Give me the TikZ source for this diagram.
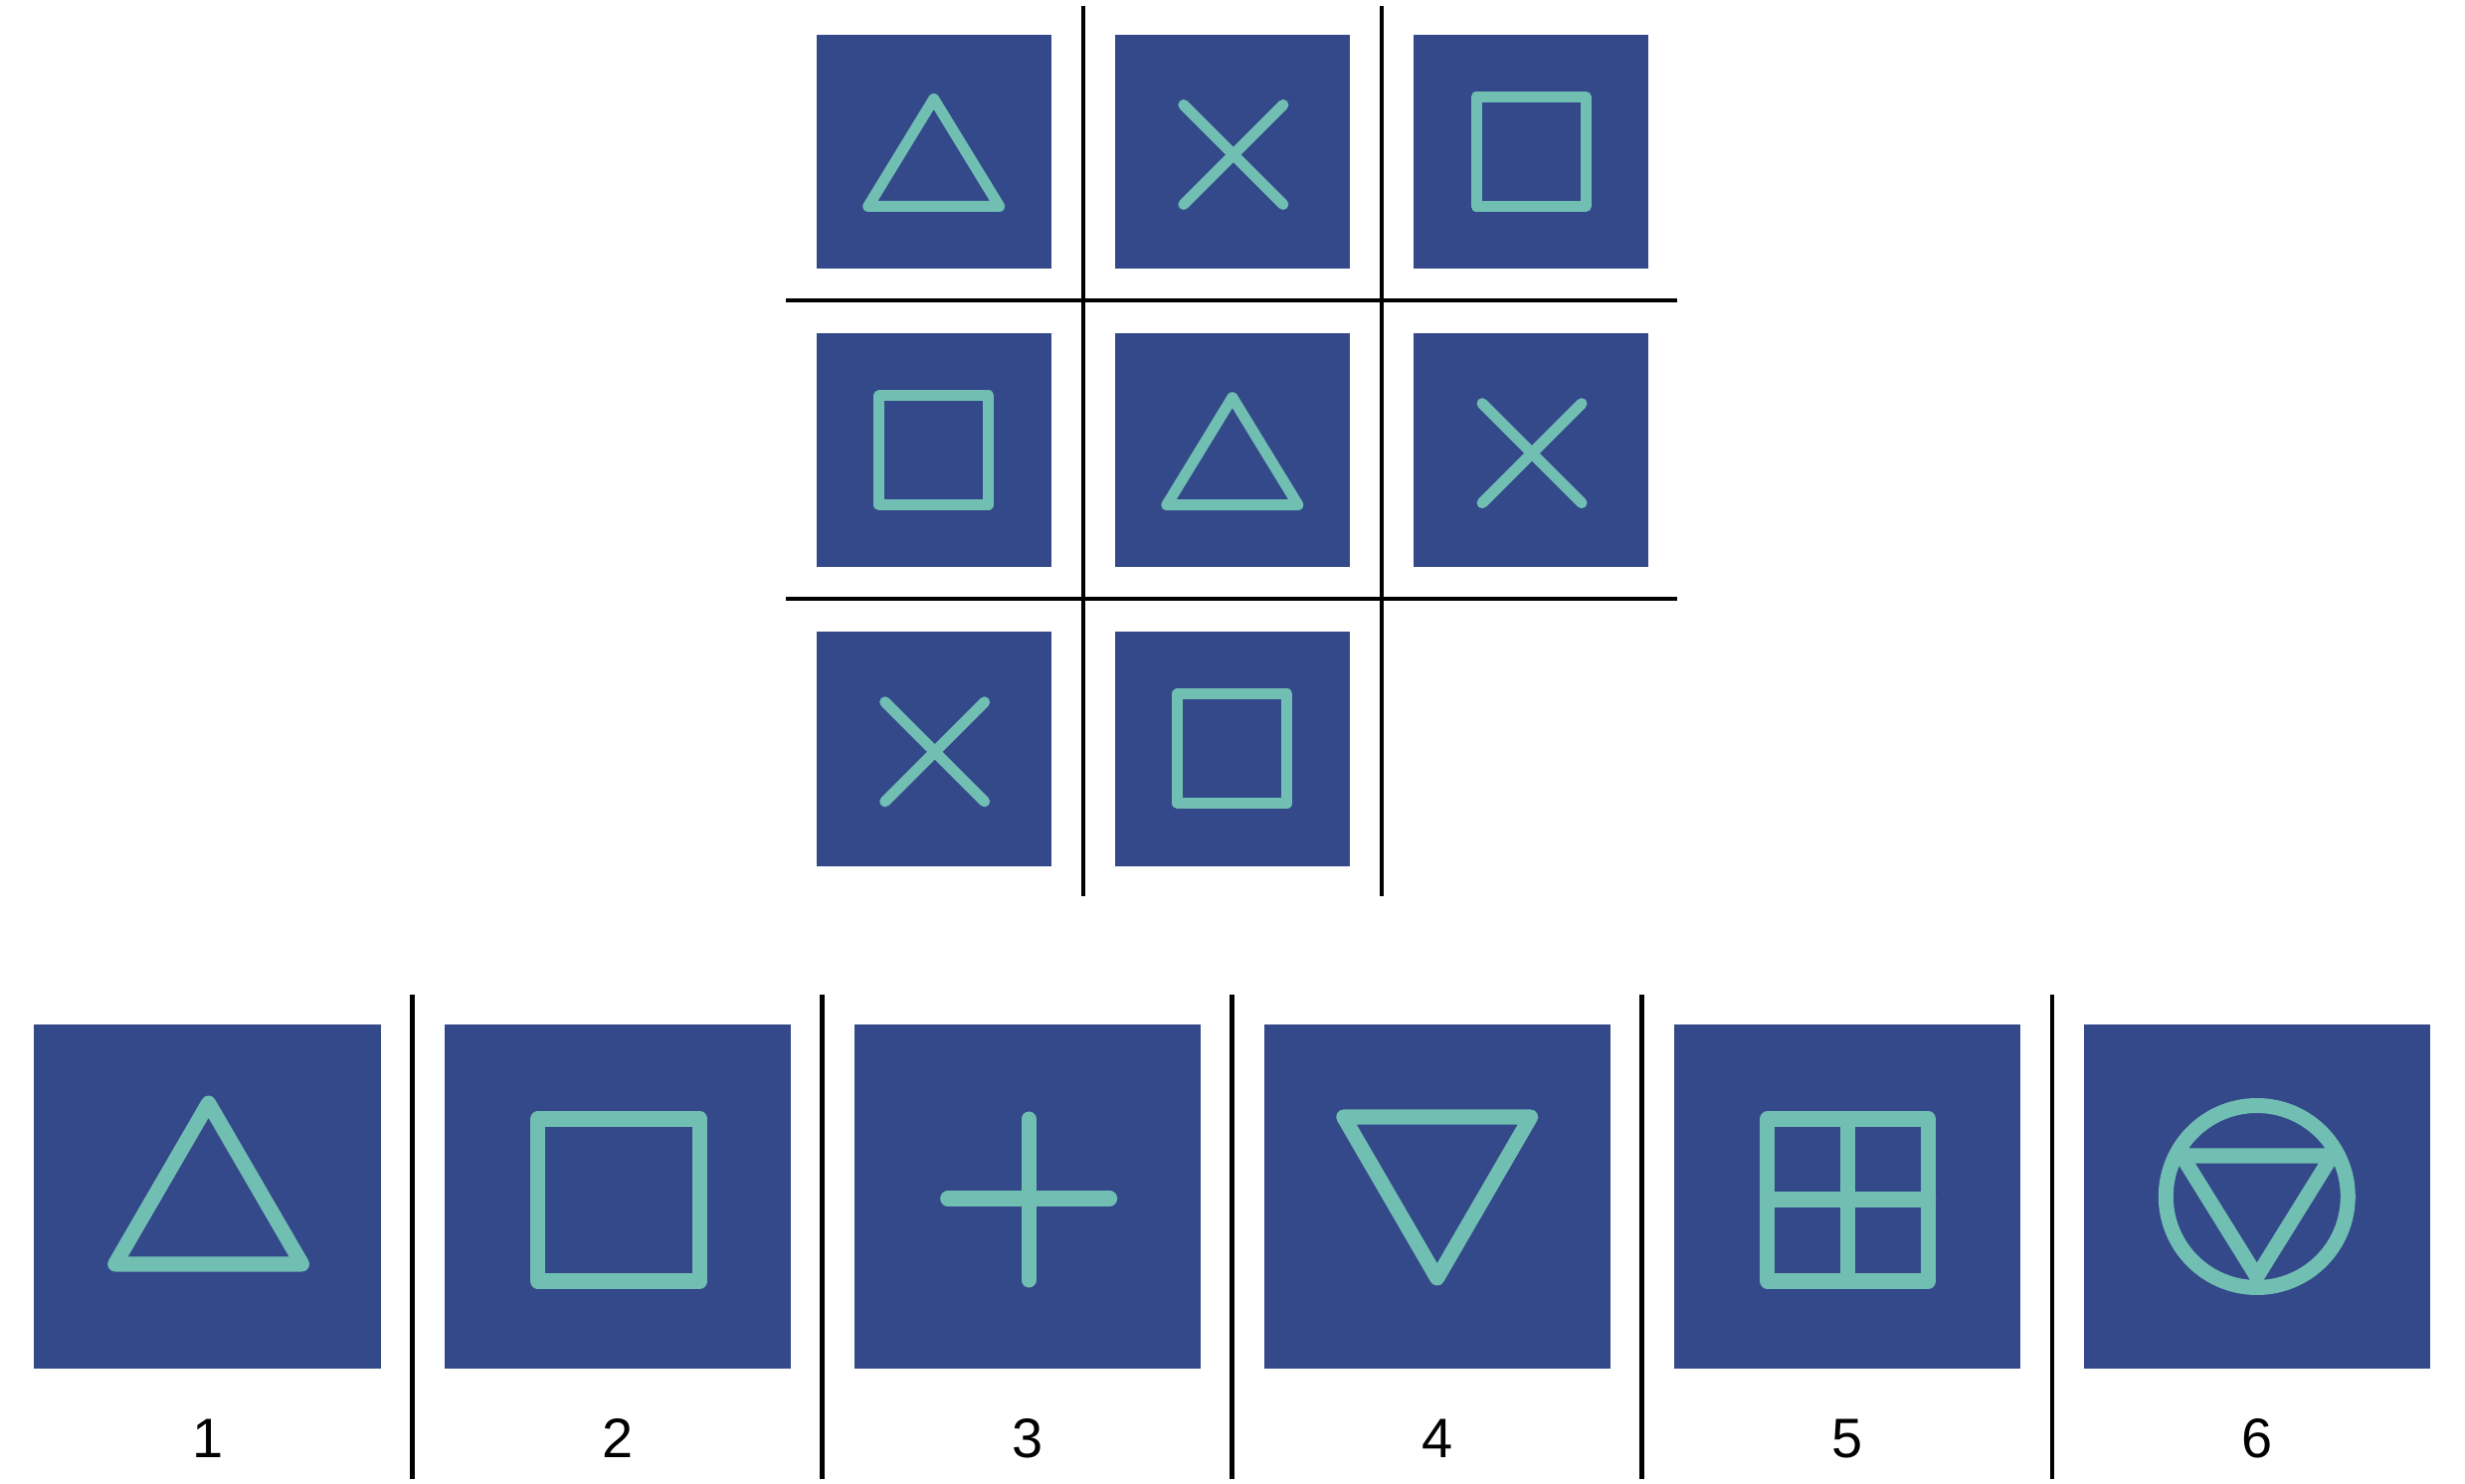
\documentclass[tikz,border=0pt]{standalone}
\usepackage{fontspec}
\setmainfont{Liberation Sans}
\usepackage{tikz}
\usetikzlibrary{positioning,calc}
\definecolor{tileblue}{RGB}{52,73,138}
\definecolor{glyphteal}{RGB}{113,190,178}
\tikzset{cell/.style={fill=tileblue, inner sep=0pt, outer sep=0pt, minimum size=2.355cm}}
\tikzset{box/.style={fill=tileblue, inner sep=0pt, outer sep=0pt, minimum width=3.48cm, minimum height=3.46cm}}
\tikzset{num/.style={inner sep=0pt, font=\fontsize{15.9}{19}\selectfont}}
\tikzset{rule/.style={draw=black, line width=0.045cm}}
\tikzset{glyph/.style={draw=glyphteal, line width=0.11cm, line cap=round, line join=round}}
\tikzset{bigglyph/.style={glyph, line width=0.15cm}}
\tikzset{
	triup/.pic={\draw[glyph] (0,-53) -- (66,55) -- (-66,55) -- cycle;},
	xmark/.pic={\draw[glyph] (-49,-47) -- (51,53) (-49,53) -- (51,-47);},
	sqmark/.pic={\draw[glyph] (-55,-55) rectangle (55,55);},
	bigtri/.pic={\draw[bigglyph] (1,-94) -- (95,68) -- (-93,68) -- cycle;},
	bigsq/.pic={\draw[bigglyph] (-80,-78) rectangle (83,85);},
	bigplus/.pic={\draw[bigglyph] (-80,2) -- (83,2) (1.5,-78) -- (1.5,84);},
	bigdown/.pic={\draw[bigglyph] (-94,-80) -- (94,-80) -- (0,82) -- cycle;},
	bigwin/.pic={\draw[bigglyph] (-80,-78) rectangle (82,85) (1,-78) -- (1,85) (-80,3) -- (82,3);},
	bigring/.pic={\draw[bigglyph] (0,0) circle (91.5) (-75.5,-41) -- (75.5,-41) -- (0,80.6) -- cycle;}
}

\begin{document}
\begin{tikzpicture}[x=0.01cm,y=-0.01cm]
			\useasboundingbox[fill=white] (0,0) rectangle (2478,1492);
			% puzzle grid
			\node [cell] at (938.7,152.5)           (a11) {};
			\node [cell, right=0.645cm of a11]      (a12) {};
			\node [cell, right=0.645cm of a12]      (a13) {};
			\node [cell, below=0.645cm of a11]      (a21) {};
			\node [cell, right=0.645cm of a21]      (a22) {};
			\node [cell, right=0.645cm of a22]      (a23) {};
			\node [cell, below=0.645cm of a21]      (a31) {};
			\node [cell, right=0.645cm of a31]      (a32) {};
			\pic at (a11) {triup};
			\pic at (a12) {xmark};
			\pic at (a13) {sqmark};
			\pic at (a21) {sqmark};
			\pic at (a22) {triup};
			\pic at (a23) {xmark};
			\pic at (a31) {xmark};
			\pic at (a32) {sqmark};
			%
			\coordinate (v1t) at (1089,6);   \coordinate (v1b) at (1089,901);
			\coordinate (v2t) at (1389,6);   \coordinate (v2b) at (1389,901);
			\coordinate (h1l) at (790,302);  \coordinate (h1r) at (1686,302);
			\coordinate (h2l) at (790,602);  \coordinate (h2r) at (1686,602);
			\draw [rule] (v1t) -- (v1b);
			\draw [rule] (v2t) -- (v2b);
			\draw [rule] (h1l) -- (h1r);
			\draw [rule] (h2l) -- (h2r);
			% answer options
			\node [box] at (208.6,1203)             (o1) {};
			\node [box, right=0.638cm of o1]        (o2) {};
			\node [box, right=0.638cm of o2]        (o3) {};
			\node [box, right=0.638cm of o3]        (o4) {};
			\node [box, right=0.638cm of o4]        (o5) {};
			\node [box, right=0.638cm of o5]        (o6) {};
			\pic at (o1) {bigtri};
			\pic at (o2) {bigsq};
			\pic at (o3) {bigplus};
			\pic at (o4) {bigdown};
			\pic at (o5) {bigwin};
			\pic at (o6) {bigring};
			\foreach \i in {1,...,6}
				\node [num, below=0.5cm of o\i]     (n\i) {\i};
			%
			\foreach \i/\j in {1/2,2/3,3/4,4/5,5/6}{
				\coordinate (s\i t) at ($(o\i.east)!0.5!(o\j.west)$);
				\draw [rule] (s\i t |- 0,1000) -- (s\i t |- 0,1487);
			}
\end{tikzpicture}
\end{document}
